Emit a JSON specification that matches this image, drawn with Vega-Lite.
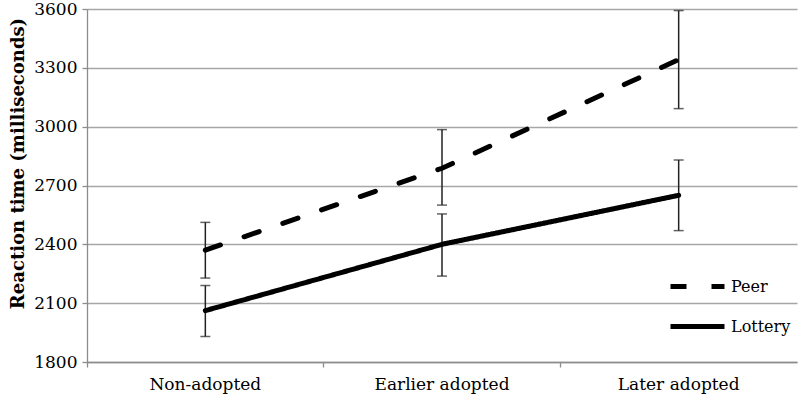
{
  "$schema": "https://vega.github.io/schema/vega-lite/v6.json",
  "autosize": {"type": "none"},
  "padding": {"left": 87, "top": 9, "right": 3, "bottom": 38},
  "width": 710,
  "height": 353,
  "background": "white",
  "config": {"view": {"stroke": null}},
  "data": {
    "values": [
      {"group": "Peer", "category": "Non-adopted", "mean": 2370, "lo": 2228, "hi": 2512},
      {"group": "Peer", "category": "Earlier adopted", "mean": 2788, "lo": 2600, "hi": 2985},
      {"group": "Peer", "category": "Later adopted", "mean": 3342, "lo": 3092, "hi": 3592},
      {"group": "Lottery", "category": "Non-adopted", "mean": 2062, "lo": 1930, "hi": 2190},
      {"group": "Lottery", "category": "Earlier adopted", "mean": 2400, "lo": 2238, "hi": 2555},
      {"group": "Lottery", "category": "Later adopted", "mean": 2650, "lo": 2470, "hi": 2830}
    ]
  },
  "encoding": {
    "x": {
      "field": "category",
      "type": "nominal",
      "sort": ["Non-adopted", "Earlier adopted", "Later adopted"],
      "bandPosition": 0.5,
      "scale": {"type": "band", "paddingInner": 0, "paddingOuter": 0},
      "axis": {
        "title": null,
        "labelAngle": 0,
        "bandPosition": 0,
        "labelFont": "DejaVu Serif",
        "labelFontSize": 17,
        "labelColor": "black",
        "labelPadding": 9,
        "domainColor": "#8c8c8c",
        "domainWidth": 1.3,
        "tickColor": "#8c8c8c",
        "tickWidth": 1.3,
        "tickSize": 5,
        "grid": false
      }
    }
  },
  "layer": [
    {
      "mark": {"type": "rule", "color": "#222222", "strokeWidth": 1.5},
      "encoding": {
        "y": {
          "field": "lo",
          "type": "quantitative",
          "scale": {"domain": [1800, 3600], "nice": false, "zero": false},
          "axis": {
            "title": "Reaction time (milliseconds)",
            "titleFont": "DejaVu Serif",
            "titleFontSize": 18,
            "titleFontWeight": "bold",
            "titleColor": "black",
            "titleY": 154,
            "titleX": -60,
            "values": [1800, 2100, 2400, 2700, 3000, 3300, 3600],
            "format": "d",
            "labelFont": "DejaVu Serif",
            "labelFontSize": 17,
            "labelColor": "black",
            "labelPadding": 5,
            "domainColor": "#8c8c8c",
            "domainWidth": 1.3,
            "tickColor": "#8c8c8c",
            "tickWidth": 1.3,
            "tickSize": 5,
            "grid": true,
            "gridColor": "#a6a6a6",
            "gridWidth": 1.3
          }
        },
        "y2": {"field": "hi"}
      }
    },
    {
      "mark": {"type": "tick", "color": "#222222", "thickness": 1.5, "size": 10},
      "encoding": {"y": {"field": "lo", "type": "quantitative"}}
    },
    {
      "mark": {"type": "tick", "color": "#222222", "thickness": 1.5, "size": 10},
      "encoding": {"y": {"field": "hi", "type": "quantitative"}}
    },
    {
      "mark": {"type": "line", "color": "black", "strokeWidth": 5, "strokeCap": "round"},
      "encoding": {
        "y": {"field": "mean", "type": "quantitative"},
        "strokeDash": {
          "field": "group",
          "type": "nominal",
          "scale": {"domain": ["Peer", "Lottery"], "range": [[16, 25], [1, 0]]},
          "legend": {
            "title": null,
            "orient": "none",
            "legendX": 581,
            "legendY": 248,
            "padding": 0,
            "symbolType": "stroke",
            "symbolSize": 2916,
            "symbolStrokeWidth": 5,
            "symbolStrokeColor": "black",
            "labelFont": "DejaVu Serif",
            "labelFontSize": 16,
            "labelColor": "black",
            "labelOffset": 4,
            "rowPadding": -20
          }
        }
      }
    }
  ]
}
